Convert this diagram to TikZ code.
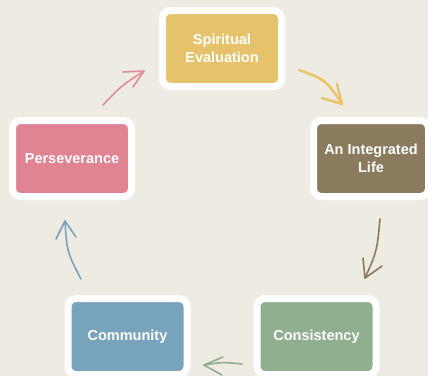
\documentclass[tikz,border=0pt]{standalone}
\usepackage{fontspec}
\setmainfont{Liberation Sans}
\usetikzlibrary{arrows.meta}
\definecolor{bg}{HTML}{EEEBE3}
\definecolor{cgold}{HTML}{E6C36B}
\definecolor{cbrown}{HTML}{8B7B5E}
\definecolor{cgreen}{HTML}{8FAF8F}
\definecolor{cblue}{HTML}{78A3BD}
\definecolor{cpink}{HTML}{E08494}
\definecolor{agold}{HTML}{E8C366}
\definecolor{apink}{HTML}{E48A9A}
\tikzset{
  stage/.style={draw=white, line width=7pt, rounded corners=8pt,
    minimum width=119pt, minimum height=76pt, inner sep=0pt,
    align=center, text=white, font=\fontsize{14.5}{18}\selectfont\bfseries},
  sketch/.style={line width=#1, line cap=round, line join=round},
}
\begin{document}
\begin{tikzpicture}[x=1pt, y=-1pt]
  \fill[bg] (0,0) rectangle (428,376);
  \useasboundingbox (0,0) rectangle (428,376);

  % the five stages of the cycle
  \node[stage, fill=cgold] (spirit) at (222,48.5) {Spiritual\\Evaluation};
  \node[stage, fill=cbrown, minimum width=115pt] (life) at (371,158.5) {An Integrated\\Life};
  \node[stage, fill=cgreen] (consist) at (316.5,336.5) {Consistency};
  \node[stage, fill=cblue] (comm) at (127.5,336.5) {Community};
  \node[stage, fill=cpink] (persev) at (72,158.5) {Perseverance};

  % hand-drawn arrows between the stages
  \coordinate (g0) at (299,70);  \coordinate (g1) at (342,104);
  \draw[sketch=2.4pt, agold] (g0) .. controls (326,80) .. (g1);
  \draw[sketch=2.4pt, agold] (337,84) -- (g1) -- (322,98);

  \coordinate (b0) at (380,219); \coordinate (b1) at (365,278);
  \draw[sketch=1.6pt, cbrown] (b0) .. controls (377,251) .. (b1);
  \draw[sketch=1.6pt, cbrown] (363,258) -- (b1) -- (382,266);

  \coordinate (n0) at (242,364); \coordinate (n1) at (204,365);
  \draw[sketch=1.6pt, cgreen] (n0) .. controls (222,362) .. (n1);
  \draw[sketch=1.6pt, cgreen] (223,357) -- (n1) -- (222,375);

  \coordinate (u0) at (81,279);  \coordinate (u1) at (65,221);
  \draw[sketch=1.6pt, cblue] (u0) .. controls (67,252) .. (u1);
  \draw[sketch=1.6pt, cblue] (56,239) -- (u1) -- (76,237);

  \coordinate (p0) at (103,105); \coordinate (p1) at (144,71);
  \draw[sketch=1.6pt, apink] (p0) .. controls (121,86) .. (p1);
  \draw[sketch=1.6pt, apink] (123,72) -- (p1) -- (133,87);
\end{tikzpicture}
\end{document}
